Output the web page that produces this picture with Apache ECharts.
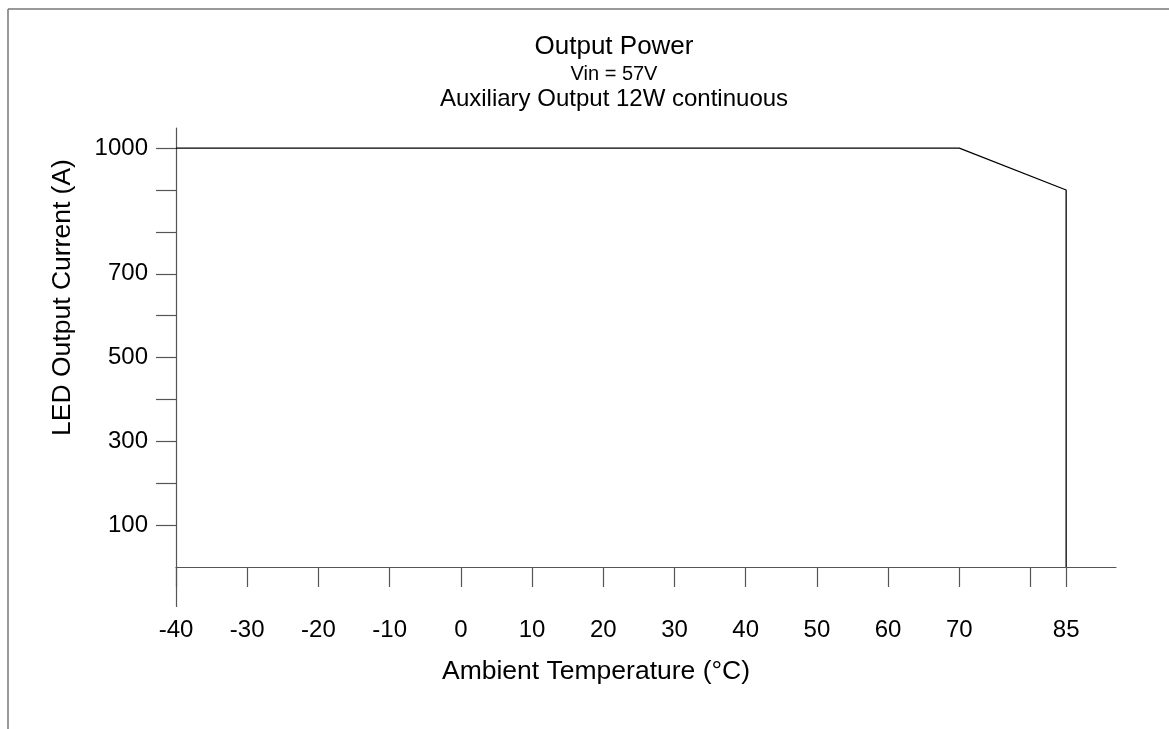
<!DOCTYPE html>
<html>
<head>
<meta charset="utf-8">
<script src="https://cdn.jsdelivr.net/npm/echarts@6/dist/echarts.min.js"></script>
<style>
  html, body { margin: 0; padding: 0; background: #fff; }
  #chart { width: 1169px; height: 729px; }
</style>
</head>
<body>
<div id="chart"></div>
<script>
  // derating curve: ambient temperature vs LED current
  const temps = [-40, 70, 85, 85];
  const currents = [1000, 1000, 900, 0];

  const xTicks = [-40, -30, -20, -10, 0, 10, 20, 30, 40, 50, 60, 70, 80, 85];
  const xLabels = [-40, -30, -20, -10, 0, 10, 20, 30, 40, 50, 60, 70, 85];
  const yTicks = [100, 200, 300, 400, 500, 600, 700, 800, 900, 1000];
  const yLabels = [100, 300, 500, 700, 1000];

  const titles = ['Output Power', 'Vin = 57V', 'Auxiliary Output 12W continuous'];

  const font = 'Liberation Sans, Arial, sans-serif';
  const axisGray = '#555';

  let myChart = echarts.init(document.getElementById('chart'));

  function titleItem(text, top, size) {
    return {
      text: text, left: 614, top: top, textAlign: 'center', padding: 0,
      textStyle: { fontFamily: font, fontSize: size, fontWeight: 'normal', color: '#000' }
    };
  }

  myChart.setOption({
    backgroundColor: '#fff',
    animation: false,
    title: [
      titleItem(titles[0], 34, 26),
      titleItem(titles[1], 64, 20),
      titleItem(titles[2], 87, 24)
    ],
    graphic: [
      // frame lines at top and left
      { type: 'line', shape: { x1: 8, y1: 9, x2: 1169, y2: 9 }, style: { stroke: '#777', lineWidth: 1.5 } },
      { type: 'line', shape: { x1: 8, y1: 9, x2: 8, y2: 729 }, style: { stroke: '#777', lineWidth: 1.5 } }
    ],
    grid: { left: 176, right: 53, top: 128, bottom: 162 },
    xAxis: [
      {
        type: 'value',
        min: -40,
        max: 92,
        name: 'Ambient Temperature (°C)',
        nameLocation: 'middle',
        nameGap: 91,
        nameTextStyle: { fontFamily: font, fontSize: 26.5, color: '#000', padding: [0, 100, 0, 0] },
        axisLine: { show: true, onZero: false, lineStyle: { color: axisGray, width: 1.2 } },
        axisTick: { show: true, length: 20, customValues: xTicks, lineStyle: { color: axisGray, width: 1.2 } },
        axisLabel: { customValues: xLabels, margin: 51, fontFamily: font, fontSize: 24, color: '#000' },
        splitLine: { show: false }
      },
      {
        // longer tick below the origin corner
        type: 'value',
        min: -40,
        max: 92,
        position: 'bottom',
        axisLine: { show: false },
        axisTick: { show: true, length: 40, customValues: [-40], lineStyle: { color: axisGray, width: 1.2 } },
        axisLabel: { show: false },
        splitLine: { show: false }
      }
    ],
    yAxis: {
      type: 'value',
      min: 0,
      max: 1048,
      name: 'LED Output Current (A)',
      nameLocation: 'middle',
      nameGap: 100,
      nameTextStyle: { fontFamily: font, fontSize: 26.5, color: '#000', padding: [0, 0, 0, 100] },
      axisLine: { show: true, onZero: false, lineStyle: { color: axisGray, width: 1.2 } },
      axisTick: { show: true, length: 20, customValues: yTicks, lineStyle: { color: axisGray, width: 1.2 } },
      axisLabel: {
        customValues: yLabels, margin: 28, fontFamily: font, fontSize: 24, color: '#000',
        formatter: v => String(v)
      },
      splitLine: { show: false }
    },
    series: [
      {
        type: 'line',
        data: temps.map((t, i) => [t, currents[i]]),
        symbol: 'none',
        lineStyle: { color: '#000', width: 1.3 },
        z: 5
      }
    ]
  });
</script>
</body>
</html>
